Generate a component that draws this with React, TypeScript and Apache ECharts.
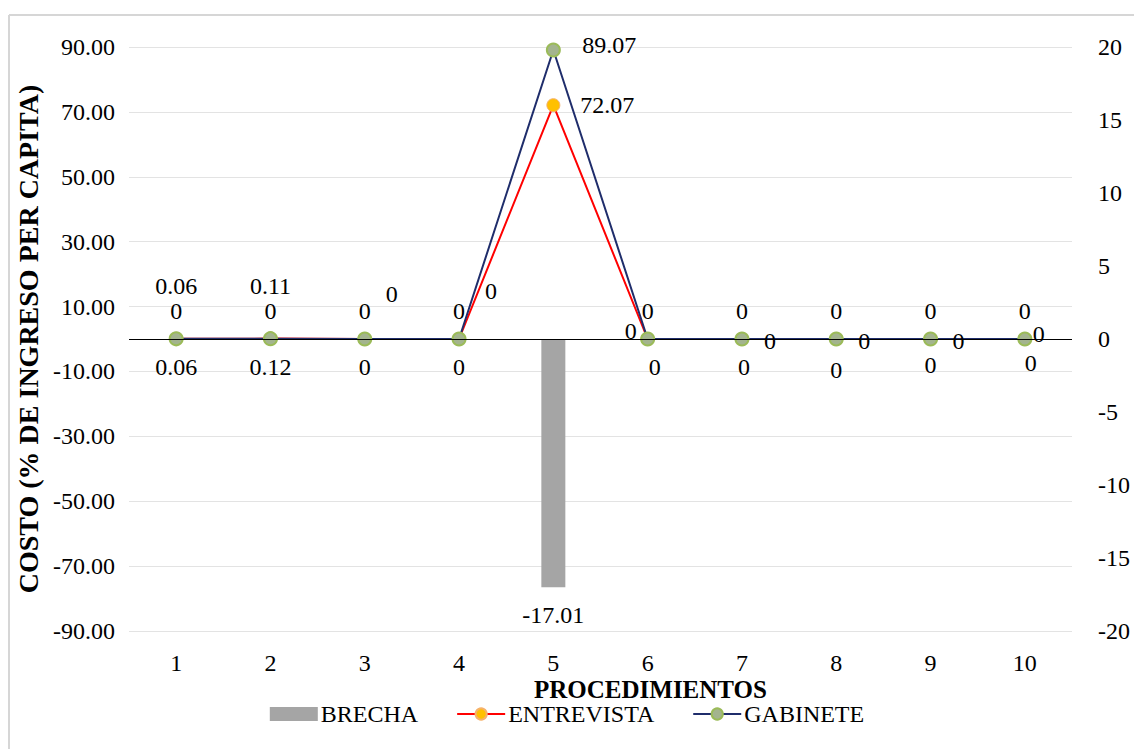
import React, { useEffect, useRef } from "react";
import * as echarts from "echarts";

const categories = ["1", "2", "3", "4", "5", "6", "7", "8", "9", "10"];
const brecha = [0, 0, 0, 0, -17.01, 0, 0, 0, 0, 0];
const entrevista = [0.06, 0.12, 0, 0, 72.07, 0, 0, 0, 0, 0];
const gabinete = [0.06, 0.11, 0, 0, 89.07, 0, 0, 0, 0, 0];
const leftTicks = { min: -90, max: 90, interval: 20 };
const rightTicks = { min: -20, max: 20, interval: 5 };

// label offsets (style only)
const gabOffsets: number[][] = [
  [0, -53], [0, -53], [27, -45], [32, -48], [56, -5], [-17, -8], [28, 2], [28, 2], [28, 2], [14, -5],
];
const entOffsets: number[][] = [
  [0, 28], [0, 28], [0, 28], [0, 28], [54, 0], [7, 28], [2, 28], [0, 31], [0, 26], [6, 24],
];

const FONT = '"Times New Roman", "Liberation Serif", Tinos, serif';
const FS = 24;

export default function App() {
  const ref = useRef<HTMLDivElement>(null);
  useEffect(() => {
    if (!ref.current) return;
    const chart = echarts.init(ref.current, undefined, { renderer: "svg" });
    const lbl = { fontFamily: FONT, fontSize: FS, fontWeight: "normal", color: "#000" };
    chart.setOption({
      animation: false,
      backgroundColor: "#fff",
      textStyle: { fontFamily: FONT },
      grid: { left: 129, right: 62, top: 47, bottom: 118 },
      graphic: [
        { type: "line", shape: { x1: 9, y1: 15, x2: 1134, y2: 15 }, style: { stroke: "#d6d6d6", lineWidth: 2 } },
        { type: "line", shape: { x1: 9, y1: 15, x2: 9, y2: 749 }, style: { stroke: "#d6d6d6", lineWidth: 2 } },
        {
          type: "text",
          left: 534,
          top: 677,
          style: { text: "PROCEDIMIENTOS", fontFamily: FONT, fontWeight: "bold", fontSize: 25, fill: "#000" },
        },
      ],
      legend: {
        bottom: 18,
        left: "center",
        itemWidth: 48,
        itemHeight: 14,
        itemGap: 38,
        textStyle: { ...lbl, padding: [0, 0, 0, -2] },
        data: [
          { name: "BRECHA", icon: "rect" },
          { name: "ENTREVISTA" },
          { name: "GABINETE" },
        ],
      },
      xAxis: {
        type: "category",
        data: categories,
        axisLine: { show: false, onZero: false },
        axisTick: { show: false },
        axisLabel: { ...lbl, margin: 20 },
        splitLine: { show: false },
      },
      yAxis: [
        {
          type: "value",
          ...leftTicks,
          position: "left",
          name: "COSTO (% DE INGRESO PER CAPITA)",
          nameLocation: "middle",
          nameGap: 84,
          nameTextStyle: { fontFamily: FONT, fontSize: 28, fontWeight: "bold", color: "#000" },
          axisLine: { show: false },
          axisTick: { show: false },
          axisLabel: { ...lbl, margin: 14, formatter: (v: number) => v.toFixed(2) },
          splitLine: { lineStyle: { color: "#e3e3e3", width: 1 } },
        },
        {
          type: "value",
          ...rightTicks,
          position: "right",
          axisLine: { show: false },
          axisTick: { show: false },
          axisLabel: { ...lbl, margin: 26 },
          splitLine: { show: false },
        },
      ],
      series: [
        {
          name: "BRECHA",
          type: "bar",
          yAxisIndex: 1,
          barWidth: 24,
          itemStyle: { color: "#a5a5a5" },
          data: brecha.map((v) => ({
            value: v,
            label: v < 0 ? { position: "bottom", distance: 16 } : { position: "top", distance: 16 },
          })),
          label: { show: true, ...lbl, formatter: (p: any) => (p.value === 0 ? "0" : p.value.toFixed(2)) },
          markLine: {
            silent: true,
            symbol: "none",
            label: { show: false },
            lineStyle: { color: "#000", width: 1.2, type: "solid" },
            data: [{ yAxis: 0 }],
          },
          z: 1,
        },
        {
          name: "ENTREVISTA",
          type: "line",
          yAxisIndex: 0,
          symbol: "circle",
          symbolSize: 13,
          lineStyle: { color: "#ff0000", width: 2 },
          itemStyle: { color: "#ffc000", borderColor: "#f6b26b", borderWidth: 1 },
          label: { show: true, ...lbl, position: "inside" },
          data: entrevista.map((v, i) => ({ value: v, label: { offset: entOffsets[i] } })),
          z: 3,
        },
        {
          name: "GABINETE",
          type: "line",
          yAxisIndex: 0,
          symbol: "circle",
          symbolSize: 13,
          lineStyle: { color: "#1f2d6b", width: 2 },
          itemStyle: { color: "#a3b48e", borderColor: "#9bbb59", borderWidth: 2 },
          label: { show: true, ...lbl, position: "inside" },
          data: gabinete.map((v, i) => ({ value: v, label: { offset: gabOffsets[i] } })),
          z: 4,
        },
      ],
    });
    return () => chart.dispose();
  }, []);
  return (
    <div
      ref={ref}
      style={{ position: "fixed", left: 0, top: 0, width: 1134, height: 749 }}
    />
  );
}
